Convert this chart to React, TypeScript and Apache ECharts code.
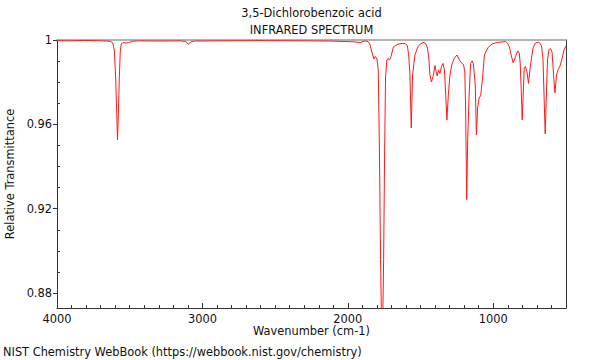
import React, { useEffect, useRef } from 'react';
import * as echarts from 'echarts';

const wavenumbers = [
  4000, 3913, 3809, 3706, 3651, 3631, 3617, 3606, 3596, 3589, 3584, 3578, 3572, 3565, 3558, 3548, 3527, 3507, 3479, 3431,
  3293, 3156, 3115, 3097, 3080, 3053, 2881, 2605, 2330, 2124, 1986, 1952, 1917, 1883, 1862, 1849, 1835, 1821, 1811, 1800,
  1791, 1783, 1775, 1768, 1761, 1754, 1747, 1741, 1732, 1723, 1714, 1704, 1687, 1656, 1622, 1604, 1591, 1582, 1573, 1564,
  1555, 1539, 1518, 1498, 1477, 1463, 1453, 1443, 1436, 1425, 1413, 1401, 1394, 1386, 1376, 1367, 1357, 1346, 1336, 1327,
  1319, 1309, 1298, 1284, 1267, 1250, 1233, 1216, 1205, 1196, 1190, 1183, 1176, 1166, 1156, 1145, 1137, 1124, 1116, 1108,
  1097, 1087, 1075, 1061, 1037, 1009, 975, 934, 916, 903, 889, 877, 863, 848, 832, 821, 815, 808, 801, 793,
  787, 779, 768, 758, 744, 727, 710, 689, 676, 667, 658, 650, 643, 636, 627, 617, 607, 596, 590, 583,
  576, 565, 555, 541, 526, 514, 500,
];
const transmittance = [
  0.9997, 0.9996, 0.9998, 0.9996, 0.9995, 0.9993, 0.9986, 0.9953, 0.9811, 0.9645, 0.9527, 0.9645, 0.9811, 0.9943, 0.9981, 0.9988, 0.9986, 0.9988, 0.9994, 0.9996,
  0.9995, 0.9996, 0.9993, 0.998, 0.9991, 0.9995, 0.9996, 0.9997, 0.9996, 0.9995, 0.9992, 0.9991, 0.9988, 0.9995, 0.9993, 0.9981, 0.9943, 0.991, 0.9922, 0.991,
  0.9858, 0.9479, 0.8959, 0.8627, 0.8627, 0.8959, 0.9479, 0.982, 0.9905, 0.9913, 0.9905, 0.992, 0.9967, 0.998, 0.9984, 0.9982, 0.9974, 0.9929, 0.9834, 0.9583,
  0.9834, 0.9929, 0.9968, 0.9983, 0.9989, 0.9981, 0.9962, 0.9915, 0.9834, 0.9801, 0.983, 0.9879, 0.9853, 0.983, 0.9858, 0.9841, 0.9872, 0.9889, 0.9858, 0.974,
  0.9621, 0.974, 0.9834, 0.9886, 0.9915, 0.9929, 0.9905, 0.9889, 0.9884, 0.9849, 0.9669, 0.9243, 0.9527, 0.974, 0.9889, 0.9901, 0.9886, 0.9787, 0.955, 0.9678,
  0.9725, 0.9735, 0.9811, 0.9929, 0.9964, 0.9981, 0.9988, 0.9991, 0.9993, 0.9986, 0.9967, 0.9929, 0.9891, 0.992, 0.9948, 0.9938, 0.9891, 0.9763, 0.9621, 0.9763,
  0.9867, 0.9875, 0.9849, 0.9794, 0.9882, 0.9962, 0.9986, 0.9989, 0.9983, 0.9967, 0.9905, 0.9716, 0.9555, 0.9716, 0.9905, 0.9953, 0.996, 0.9943, 0.9882, 0.9811,
  0.9749, 0.9834, 0.9858, 0.9877, 0.9915, 0.9953, 0.9972,
];

const xMajorTicks = [1000, 2000, 3000, 4000];
const xMinorTicks = [
  600, 700, 800, 900, 1100, 1200, 1300, 1400, 1500, 1600, 1700, 1800, 1900,
  2100, 2200, 2300, 2400, 2500, 2600, 2700, 2800, 2900,
  3100, 3200, 3300, 3400, 3500, 3600, 3700, 3800, 3900,
];
const yMajorTicks = [0.88, 0.92, 0.96, 1];
const yMinorTicks = [0.89, 0.9, 0.91, 0.93, 0.94, 0.95, 0.97, 0.98, 0.99];

const titleLine1 = '3,5-Dichlorobenzoic acid';
const titleLine2 = 'INFRARED SPECTRUM';
const xName = 'Wavenumber (cm-1)';
const yName = 'Relative Transmittance';
const footer = 'NIST Chemistry WebBook (https://webbook.nist.gov/chemistry)';

const X_MIN = 500;
const X_MAX = 4000;
const Y_MIN = 0.8729;
const Y_MAX = 1.0;

const FONT = 'DejaVu Sans';
const FS = 11.4;
const TXT = '#111';
const AXC = '#333';

export default function App() {
  const ref = useRef<HTMLDivElement>(null);
  useEffect(() => {
    if (!ref.current) return;
    const chart = echarts.init(ref.current, undefined, { renderer: 'svg' });
    const data = wavenumbers.map((w, i) => [w, transmittance[i]]);
    const baseX = { type: 'value', min: X_MIN, max: X_MAX, inverse: true, splitLine: { show: false } };
    const baseY = { type: 'value', min: Y_MIN, max: Y_MAX, splitLine: { show: false } };
    chart.setOption({
      animation: false,
      backgroundColor: '#fff',
      grid: { left: 57, right: 34, top: 40, bottom: 52, containLabel: false },
      xAxis: [
        {
          ...baseX,
          position: 'bottom',
          axisLine: { show: true, lineStyle: { color: AXC, width: 1 } },
          axisTick: { show: true, inside: true, length: 5, customValues: xMajorTicks, lineStyle: { color: AXC } },
          axisLabel: {
            show: true, margin: 5, customValues: xMajorTicks, color: TXT, fontFamily: FONT, fontSize: FS,
            formatter: (v: number) => String(v),
          },
        },
        {
          ...baseX,
          position: 'bottom',
          axisLine: { show: false },
          axisTick: { show: true, inside: true, length: 3, customValues: xMinorTicks, lineStyle: { color: AXC } },
          axisLabel: { show: false },
        },
        {
          ...baseX,
          position: 'top',
          axisLine: { show: true, lineStyle: { color: '#999', width: 1.5 } },
          axisTick: { show: false },
          axisLabel: { show: false },
        },
      ],
      yAxis: [
        {
          ...baseY,
          position: 'left',
          axisLine: { show: true, lineStyle: { color: AXC, width: 1 } },
          axisTick: { show: true, inside: false, length: 4, customValues: yMajorTicks, lineStyle: { color: AXC } },
          axisLabel: {
            show: true, margin: 5, customValues: yMajorTicks, color: TXT, fontFamily: FONT, fontSize: FS,
            formatter: (v: number) => String(v),
          },
        },
        {
          ...baseY,
          position: 'left',
          axisLine: { show: false },
          axisTick: { show: true, inside: true, length: 3, customValues: yMinorTicks, lineStyle: { color: AXC } },
          axisLabel: { show: false },
        },
        {
          ...baseY,
          position: 'right',
          axisLine: { show: true, lineStyle: { color: AXC, width: 1 } },
          axisTick: { show: false },
          axisLabel: { show: false },
        },
      ],
      series: [
        {
          type: 'line',
          xAxisIndex: 0,
          yAxisIndex: 0,
          data,
          showSymbol: false,
          clip: true,
          lineStyle: { color: '#ff1a1a', width: 1 },
        },
      ],
      graphic: [
        { type: 'text', x: 311.5, y: 13, style: { text: titleLine1, textAlign: 'center', textVerticalAlign: 'middle', fontFamily: FONT, fontSize: FS, fill: TXT } },
        { type: 'text', x: 311.5, y: 30, style: { text: titleLine2, textAlign: 'center', textVerticalAlign: 'middle', fontFamily: FONT, fontSize: FS, fill: TXT } },
        { type: 'text', x: 311.5, y: 331, style: { text: xName, textAlign: 'center', textVerticalAlign: 'middle', fontFamily: FONT, fontSize: FS, fill: TXT } },
        { type: 'text', x: 10, y: 174, rotation: Math.PI / 2, style: { text: yName, textAlign: 'center', textVerticalAlign: 'middle', fontFamily: FONT, fontSize: FS, fill: TXT } },
        { type: 'text', x: 3, y: 352, style: { text: footer, textAlign: 'left', textVerticalAlign: 'middle', fontFamily: FONT, fontSize: FS, fill: TXT } },
      ],
    });
    return () => chart.dispose();
  }, []);
  return <div ref={ref} style={{ position: 'fixed', left: 0, top: 0, width: 600, height: 360 }} />;
}
